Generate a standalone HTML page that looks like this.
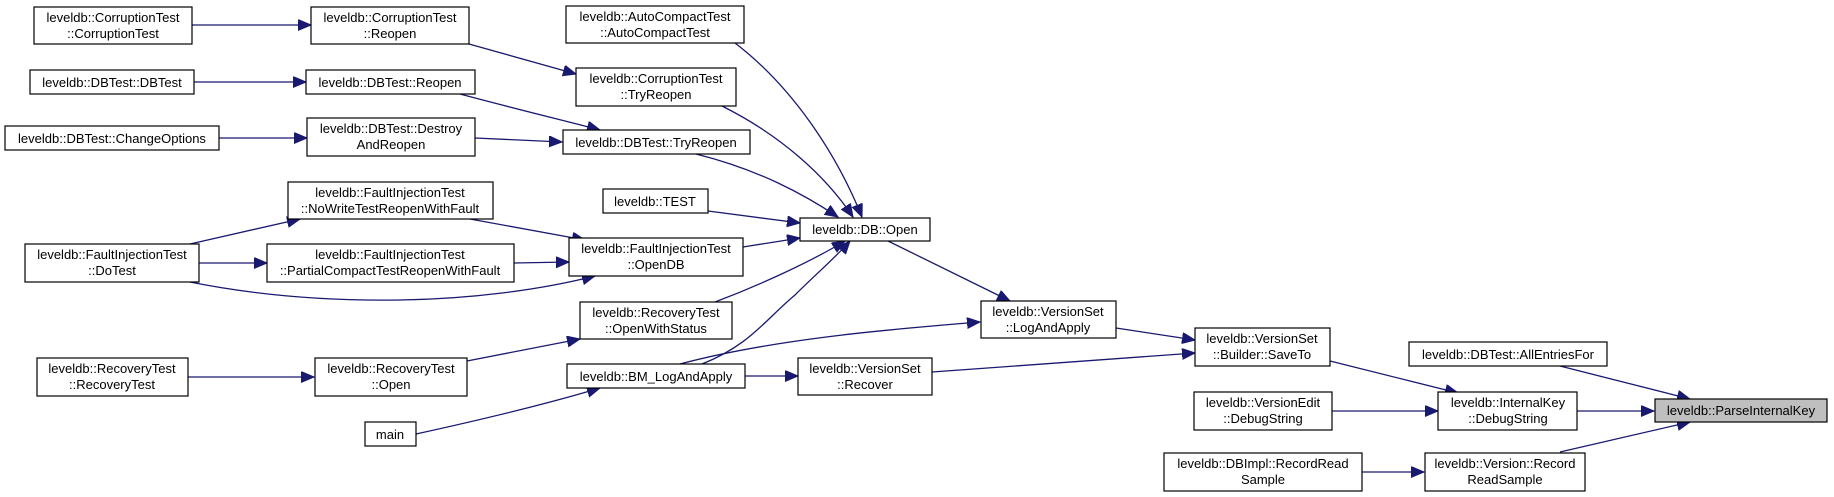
<!DOCTYPE html>
<html><head><meta charset="utf-8"><style>
html,body{margin:0;padding:0;background:#fff;}
svg{display:block;}
text{font-family:"Liberation Sans",Arial,sans-serif;font-size:13px;fill:#000;}
.b{fill:#fff;stroke:#000;stroke-width:1.2;}
.e{fill:none;stroke:#191970;stroke-width:1.3;}
</style></head><body>
<svg width="1834" height="497" viewBox="0 0 1834 497" xmlns="http://www.w3.org/2000/svg">
<defs><marker id="a" markerUnits="userSpaceOnUse" markerWidth="14" markerHeight="12" refX="13" refY="5.5" orient="auto"><path d="M0,0 L13,5.5 L0,11 Z" fill="#191970" stroke="#191970"/></marker></defs>

<!-- edges -->
<g class="e" marker-end="url(#a)">
<path d="M192,25 L311,25"/>
<path d="M469,44 L576,74"/>
<path d="M194,82 L306,82"/>
<path d="M460,94 C520,110 570,122 600,130"/>
<path d="M219,138 L307,138"/>
<path d="M475,138 L562,142"/>
<path d="M735,43 C790,85 835,150 862,217"/>
<path d="M722,106 C780,135 825,175 853,217"/>
<path d="M696,154 C760,170 805,195 838,217"/>
<path d="M708,211 L800,223"/>
<path d="M743,247 L800,238"/>
<path d="M715,302 C760,285 810,262 845,241"/>
<path d="M702,364 C750,345 765,320 795,295 C815,275 835,258 850,241"/>
<path d="M470,219 L585,240"/>
<path d="M514,263 L569,262"/>
<path d="M190,244 L300,219"/>
<path d="M199,263 L267,263"/>
<path d="M190,282 C260,296 330,301 400,300 C470,299 540,290 595,276"/>
<path d="M188,377 L314,377"/>
<path d="M467,361 L580,339"/>
<path d="M416,434 C480,420 550,403 600,388"/>
<path d="M888,241 L1010,301"/>
<path d="M680,364 C770,340 880,330 980,322"/>
<path d="M745,376 L798,376"/>
<path d="M1116,328 L1195,340"/>
<path d="M932,372 L1195,353"/>
<path d="M1330,361 L1458,393"/>
<path d="M1332,411 L1438,411"/>
<path d="M1577,411 L1654,411"/>
<path d="M1560,366 L1690,399"/>
<path d="M1560,452 L1690,422"/>
<path d="M1362,472 L1424,472"/>
</g>

<!-- nodes -->
<g>
<rect class="b" x="34" y="7" width="158" height="37"/><text x="113" y="22" text-anchor="middle">leveldb::CorruptionTest</text><text x="113" y="38" text-anchor="middle">::CorruptionTest</text>
<rect class="b" x="311" y="7" width="158" height="37"/><text x="390" y="22" text-anchor="middle">leveldb::CorruptionTest</text><text x="390" y="38" text-anchor="middle">::Reopen</text>
<rect class="b" x="566" y="6" width="178" height="37"/><text x="655" y="21" text-anchor="middle">leveldb::AutoCompactTest</text><text x="655" y="37" text-anchor="middle">::AutoCompactTest</text>
<rect class="b" x="30" y="70" width="164" height="24"/><text x="112" y="87" text-anchor="middle">leveldb::DBTest::DBTest</text>
<rect class="b" x="306" y="70" width="169" height="24"/><text x="390" y="87" text-anchor="middle">leveldb::DBTest::Reopen</text>
<rect class="b" x="576" y="68" width="160" height="38"/><text x="656" y="83" text-anchor="middle">leveldb::CorruptionTest</text><text x="656" y="99" text-anchor="middle">::TryReopen</text>
<rect class="b" x="5" y="126" width="214" height="24"/><text x="112" y="143" text-anchor="middle">leveldb::DBTest::ChangeOptions</text>
<rect class="b" x="307" y="118" width="168" height="38"/><text x="391" y="133" text-anchor="middle">leveldb::DBTest::Destroy</text><text x="391" y="149" text-anchor="middle">AndReopen</text>
<rect class="b" x="563" y="130" width="187" height="24"/><text x="656" y="147" text-anchor="middle">leveldb::DBTest::TryReopen</text>
<rect class="b" x="288" y="182" width="205" height="37"/><text x="390" y="197" text-anchor="middle">leveldb::FaultInjectionTest</text><text x="390" y="213" text-anchor="middle">::NoWriteTestReopenWithFault</text>
<rect class="b" x="603" y="189" width="105" height="24"/><text x="655" y="206" text-anchor="middle">leveldb::TEST</text>
<rect class="b" x="800" y="218" width="130" height="23"/><text x="865" y="234" text-anchor="middle">leveldb::DB::Open</text>
<rect class="b" x="25" y="244" width="174" height="38"/><text x="112" y="259" text-anchor="middle">leveldb::FaultInjectionTest</text><text x="112" y="275" text-anchor="middle">::DoTest</text>
<rect class="b" x="267" y="244" width="247" height="38"/><text x="390" y="259" text-anchor="middle">leveldb::FaultInjectionTest</text><text x="390" y="275" text-anchor="middle">::PartialCompactTestReopenWithFault</text>
<rect class="b" x="569" y="238" width="174" height="38"/><text x="656" y="253" text-anchor="middle">leveldb::FaultInjectionTest</text><text x="656" y="269" text-anchor="middle">::OpenDB</text>
<rect class="b" x="580" y="302" width="152" height="37"/><text x="656" y="317" text-anchor="middle">leveldb::RecoveryTest</text><text x="656" y="333" text-anchor="middle">::OpenWithStatus</text>
<rect class="b" x="981" y="301" width="135" height="37"/><text x="1048" y="316" text-anchor="middle">leveldb::VersionSet</text><text x="1048" y="332" text-anchor="middle">::LogAndApply</text>
<rect class="b" x="1195" y="328" width="135" height="38"/><text x="1262" y="343" text-anchor="middle">leveldb::VersionSet</text><text x="1262" y="359" text-anchor="middle">::Builder::SaveTo</text>
<rect class="b" x="1409" y="342" width="198" height="24"/><text x="1508" y="359" text-anchor="middle">leveldb::DBTest::AllEntriesFor</text>
<rect class="b" x="37" y="358" width="151" height="38"/><text x="112" y="373" text-anchor="middle">leveldb::RecoveryTest</text><text x="112" y="389" text-anchor="middle">::RecoveryTest</text>
<rect class="b" x="315" y="358" width="152" height="38"/><text x="391" y="373" text-anchor="middle">leveldb::RecoveryTest</text><text x="391" y="389" text-anchor="middle">::Open</text>
<rect class="b" x="567" y="364" width="178" height="24"/><text x="656" y="381" text-anchor="middle">leveldb::BM_LogAndApply</text>
<rect class="b" x="798" y="358" width="134" height="37"/><text x="865" y="373" text-anchor="middle">leveldb::VersionSet</text><text x="865" y="389" text-anchor="middle">::Recover</text>
<rect class="b" x="1194" y="392" width="138" height="38"/><text x="1263" y="407" text-anchor="middle">leveldb::VersionEdit</text><text x="1263" y="423" text-anchor="middle">::DebugString</text>
<rect class="b" x="1438" y="392" width="139" height="38"/><text x="1508" y="407" text-anchor="middle">leveldb::InternalKey</text><text x="1508" y="423" text-anchor="middle">::DebugString</text>
<rect x="1655" y="399" width="172" height="23" fill="#bfbfbf" stroke="#000" stroke-width="1.2"/><text x="1741" y="415" text-anchor="middle">leveldb::ParseInternalKey</text>
<rect class="b" x="365" y="422" width="51" height="24"/><text x="390" y="439" text-anchor="middle">main</text>
<rect class="b" x="1164" y="453" width="198" height="38"/><text x="1263" y="468" text-anchor="middle">leveldb::DBImpl::RecordRead</text><text x="1263" y="484" text-anchor="middle">Sample</text>
<rect class="b" x="1425" y="453" width="160" height="38"/><text x="1505" y="468" text-anchor="middle">leveldb::Version::Record</text><text x="1505" y="484" text-anchor="middle">ReadSample</text>
</g>
</svg>
</body></html>
